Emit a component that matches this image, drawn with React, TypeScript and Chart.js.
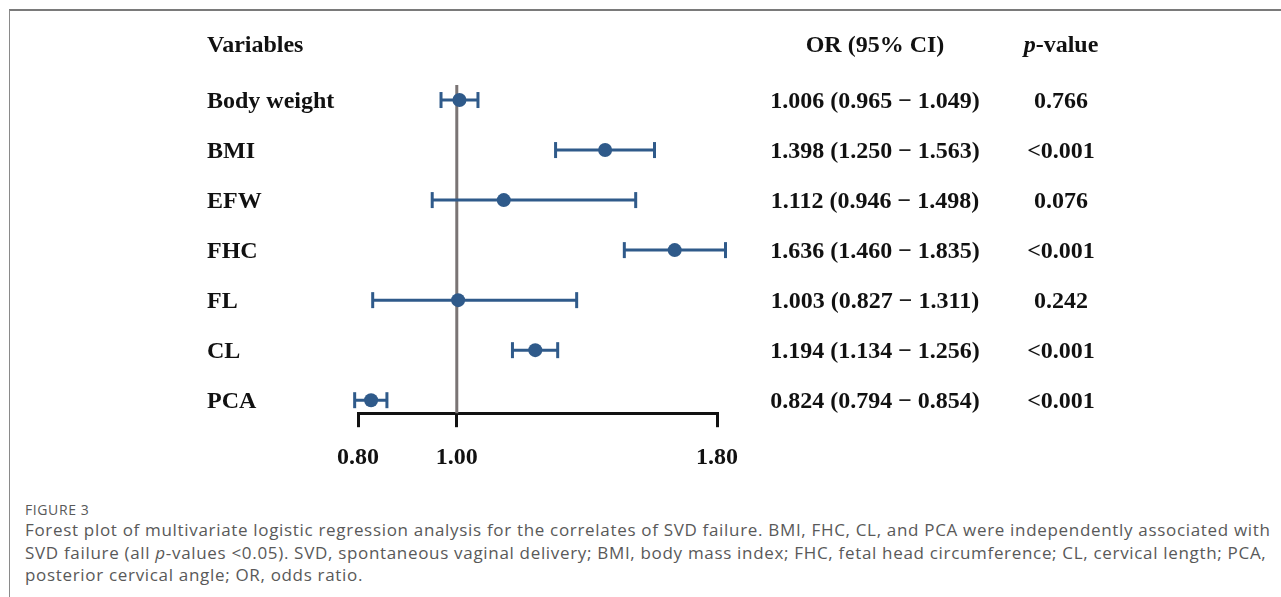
import React, { useEffect, useRef } from "react";
import { Chart, registerables } from "chart.js";

Chart.register(...registerables);

const variables = ["Body weight", "BMI", "EFW", "FHC", "FL", "CL", "PCA"];
const orValues = [1.006, 1.398, 1.112, 1.636, 1.003, 1.194, 0.824];
const ciLower = [0.965, 1.25, 0.946, 1.46, 0.827, 1.134, 0.794];
const ciUpper = [1.049, 1.563, 1.498, 1.835, 1.311, 1.256, 0.854];
const pValues = ["0.766", "<0.001", "0.076", "<0.001", "0.242", "<0.001", "<0.001"];
const xTicks = [0.8, 1.0, 1.8];
const refValue = 1.0;

const BLUE = "#2f5a8a";
const SERIF = "'Liberation Serif', 'Times New Roman', serif";

const textPlugin = {
  id: "forestText",
  afterDraw(chart: any) {
    const ctx = chart.ctx;
    const y = chart.scales.y;
    const colName = 207;
    const colOR = 875;
    const colP = 1061;
    const headerY = 46;
    const dy = 2;
    ctx.save();
    ctx.fillStyle = "#111";
    ctx.textBaseline = "middle";
    ctx.font = `bold 24px ${SERIF}`;
    ctx.textAlign = "left";
    ctx.fillText("Variables", colName, headerY);
    ctx.textAlign = "center";
    ctx.fillText("OR (95% CI)", colOR, headerY);
    const italic = `italic bold 24px ${SERIF}`;
    const bold = `bold 24px ${SERIF}`;
    ctx.font = italic;
    const wP = ctx.measureText("p").width;
    ctx.font = bold;
    const wRest = ctx.measureText("-value").width;
    const start = colP - (wP + wRest) / 2;
    ctx.textAlign = "left";
    ctx.font = italic;
    ctx.fillText("p", start, headerY);
    ctx.font = bold;
    ctx.fillText("-value", start + wP, headerY);

    variables.forEach((name, i) => {
      const py = y.getPixelForValue(i) + dy;
      ctx.font = bold;
      ctx.textAlign = "left";
      ctx.fillText(name, colName, py);
      ctx.textAlign = "center";
      const txt = `${orValues[i].toFixed(3)} (${ciLower[i].toFixed(3)} \u2212 ${ciUpper[i].toFixed(3)})`;
      ctx.fillText(txt, colOR, py);
      ctx.fillText(pValues[i], colP, py);
    });
    ctx.restore();
  },
};

function ForestChart() {
  const ref = useRef<HTMLCanvasElement>(null);
  useEffect(() => {
    if (!ref.current) return;
    const ciSets = variables.map((_, i) => ({
      type: "line" as const,
      data: [
        { x: ciLower[i], y: i },
        { x: ciUpper[i], y: i },
      ],
      borderColor: BLUE,
      backgroundColor: BLUE,
      borderWidth: 3,
      pointStyle: "line",
      rotation: 90,
      pointRadius: 8,
      pointBorderWidth: 3,
      pointBorderColor: BLUE,
      clip: false,
      order: 1,
    }));
    const chart = new Chart(ref.current, {
      type: "scatter",
      data: {
        datasets: [
          {
            type: "scatter",
            data: orValues.map((v, i) => ({ x: v, y: i })),
            backgroundColor: BLUE,
            borderColor: BLUE,
            pointRadius: 7,
            pointBorderWidth: 0,
            clip: false,
            order: 0,
          },
          ...ciSets,
          {
            type: "line",
            data: [
              { x: refValue, y: -0.3 },
              { x: refValue, y: 6.26 },
            ],
            borderColor: "#7a7474",
            borderWidth: 3,
            pointRadius: 0,
            clip: false,
            order: 2,
          },
        ] as any,
      },
      options: {
        animation: false,
        responsive: false,
        maintainAspectRatio: false,
        layout: { padding: { left: 358, right: 564, top: 40, bottom: 12 } },
        plugins: {
          legend: { display: false },
          tooltip: { enabled: false },
        },
        scales: {
          x: {
            type: "logarithmic",
            min: 0.8,
            max: 1.8,
            afterBuildTicks: (s: any) => {
              s.ticks = xTicks.map((v) => ({ value: v }));
            },
            grid: {
              drawOnChartArea: false,
              drawTicks: true,
              tickLength: 14,
              tickWidth: 3,
              tickColor: "#111",
              color: "#111",
              lineWidth: 3,
            },
            border: { display: true, color: "#111", width: 3 },
            ticks: {
              autoSkip: false,
              maxRotation: 0,
              padding: 16,
              color: "#111",
              font: { family: SERIF, size: 24, weight: "bold" },
              callback: (v: any) => Number(v).toFixed(2),
            },
          },
          y: {
            type: "linear",
            reverse: true,
            min: -1.2,
            max: 6.26,
            display: false,
          },
        },
      } as any,
      plugins: [textPlugin],
    });
    return () => chart.destroy();
  }, []);
  return (
    <canvas
      ref={ref}
      width={1281}
      height={500}
      style={{ position: "absolute", left: 0, top: 0, width: 1281, height: 500 }}
    />
  );
}

export default function App() {
  return (
    <div style={{ position: "relative", width: 1281, height: 597, background: "#fff", overflow: "hidden" }}>
      <style>{`body{margin:0;background:#fff}`}</style>
      <div
        style={{
          position: "absolute",
          left: 9,
          top: 9,
          right: 0,
          bottom: 0,
          borderTop: "2px solid #7a7a7a",
          borderLeft: "1px solid #8a8a8a",
        }}
      />
      <ForestChart />
      <div
        style={{
          position: "absolute",
          left: 25,
          top: 501,
          fontFamily: "'Open Sans', sans-serif",
          color: "#595959",
          whiteSpace: "nowrap",
        }}
      >
        <div style={{ fontSize: 14, fontWeight: 500, lineHeight: "18px", letterSpacing: "0.6px" }}>FIGURE 3</div>
        <div style={{ fontSize: 17, lineHeight: "22.5px", letterSpacing: "0.68px" }}>
          Forest plot of multivariate logistic regression analysis for the correlates of SVD failure. BMI, FHC, CL, and PCA were independently associated with
          <br />
          SVD failure (all <i>p</i>-values &lt;0.05). SVD, spontaneous vaginal delivery; BMI, body mass index; FHC, fetal head circumference; CL, cervical length; PCA,
          <br />
          posterior cervical angle; OR, odds ratio.
        </div>
      </div>
    </div>
  );
}
